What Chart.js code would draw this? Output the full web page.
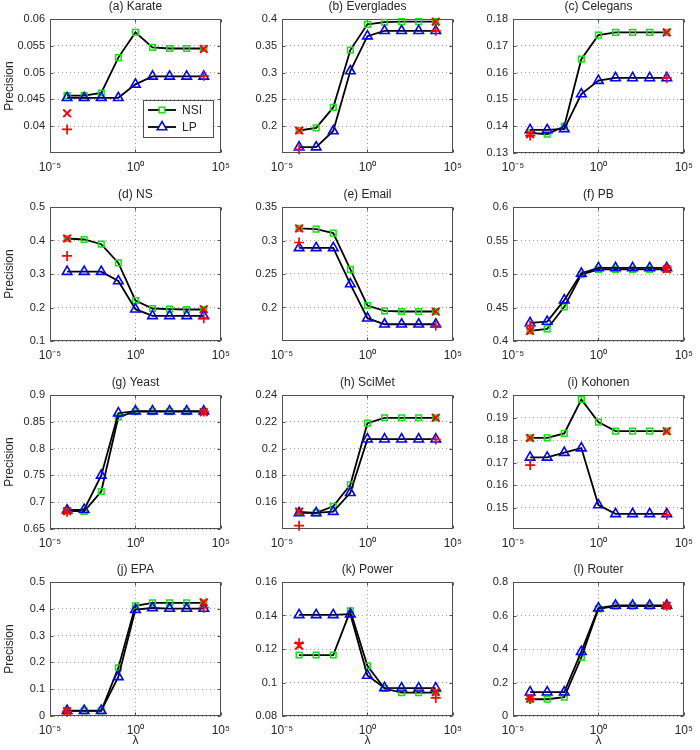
<!DOCTYPE html>
<html><head><meta charset="utf-8">
<script src="https://cdn.jsdelivr.net/npm/chart.js@4.4.0/dist/chart.umd.min.js"></script>
<style>
html,body{margin:0;padding:0;background:#fff;overflow:hidden;width:700px;height:750px;}
#wrap{position:relative;width:700px;height:750px;background:#fff;}
canvas{position:absolute;}
</style></head><body><div id="wrap"></div>
<script>
// ---------- data ----------
const lambdas = [1e-4, 1e-3, 1e-2, 1e-1, 1, 10, 100, 1000, 1e4];
const redLambdas = [1e-4, 1e4];
const xTickValues = [1e-5, 1, 1e5];
const xTickLabels = ['10\u207B\u2075', '10\u2070', '10\u2075'];
const seriesNames = ['NSI', 'LP'];

const karateNSI = [0.0457, 0.0457, 0.0462, 0.0528, 0.0575, 0.0547, 0.0545, 0.0545, 0.0545];
const karateLP = [0.0453, 0.0453, 0.0453, 0.0453, 0.0478, 0.0493, 0.0493, 0.0493, 0.0493];
const karateCross = [0.0424, 0.0544];
const karatePlus = [0.0394, 0.0494];
const karateTicks = [0.04, 0.045, 0.05, 0.055, 0.06];
const karateRange = [0.035, 0.06];

const evergladesNSI = [0.192, 0.197, 0.235, 0.342, 0.390, 0.394, 0.395, 0.395, 0.395];
const evergladesLP = [0.161, 0.161, 0.191, 0.303, 0.368, 0.378, 0.378, 0.378, 0.378];
const evergladesCross = [0.192, 0.395];
const evergladesPlus = [0.157, 0.378];
const evergladesTicks = [0.2, 0.25, 0.3, 0.35, 0.4];
const evergladesRange = [0.15, 0.4];

const celegansNSI = [0.1375, 0.137, 0.140, 0.165, 0.174, 0.175, 0.175, 0.175, 0.175];
const celegansLP = [0.1386, 0.1386, 0.139, 0.152, 0.157, 0.158, 0.158, 0.158, 0.158];
const celegansCross = [0.137, 0.175];
const celegansPlus = [0.1365, 0.158];
const celegansTicks = [0.13, 0.14, 0.15, 0.16, 0.17, 0.18];
const celegansRange = [0.13, 0.18];

const nsNSI = [0.406, 0.403, 0.389, 0.333, 0.221, 0.197, 0.195, 0.194, 0.194];
const nsLP = [0.307, 0.307, 0.307, 0.279, 0.195, 0.175, 0.175, 0.175, 0.175];
const nsCross = [0.406, 0.195];
const nsPlus = [0.354, 0.168];
const nsTicks = [0.1, 0.2, 0.3, 0.4, 0.5];
const nsRange = [0.1, 0.5];

const emailNSI = [0.318, 0.317, 0.311, 0.257, 0.203, 0.195, 0.194, 0.194, 0.194];
const emailLP = [0.289, 0.289, 0.289, 0.235, 0.184, 0.175, 0.175, 0.175, 0.175];
const emailCross = [0.318, 0.194];
const emailPlus = [0.297, 0.173];
const emailTicks = [0.2, 0.25, 0.3, 0.35];
const emailRange = [0.15, 0.35];

const pbNSI = [0.415, 0.418, 0.451, 0.499, 0.507, 0.507, 0.507, 0.507, 0.507];
const pbLP = [0.427, 0.429, 0.461, 0.501, 0.509, 0.509, 0.509, 0.509, 0.509];
const pbCross = [0.415, 0.507];
const pbPlus = [0.423, 0.509];
const pbTicks = [0.4, 0.45, 0.5, 0.55, 0.6];
const pbRange = [0.4, 0.6];

const yeastNSI = [0.684, 0.683, 0.720, 0.859, 0.869, 0.869, 0.869, 0.869, 0.869];
const yeastLP = [0.685, 0.686, 0.750, 0.866, 0.870, 0.870, 0.870, 0.870, 0.870];
const yeastCross = [0.683, 0.868];
const yeastPlus = [0.682, 0.869];
const yeastTicks = [0.65, 0.7, 0.75, 0.8, 0.85, 0.9];
const yeastRange = [0.65, 0.9];

const scimetNSI = [0.1527, 0.152, 0.157, 0.173, 0.219, 0.223, 0.223, 0.223, 0.223];
const scimetLP = [0.152, 0.152, 0.153, 0.167, 0.207, 0.207, 0.207, 0.207, 0.207];
const scimetCross = [0.153, 0.223];
const scimetPlus = [0.1425, 0.2068];
const scimetTicks = [0.16, 0.18, 0.2, 0.22, 0.24];
const scimetRange = [0.14, 0.24];

const kohonenNSI = [0.181, 0.181, 0.183, 0.198, 0.188, 0.184, 0.184, 0.184, 0.184];
const kohonenLP = [0.1724, 0.1724, 0.1745, 0.1765, 0.1513, 0.1474, 0.1474, 0.1474, 0.1474];
const kohonenCross = [0.181, 0.184];
const kohonenPlus = [0.169, 0.147];
const kohonenTicks = [0.15, 0.16, 0.17, 0.18, 0.19, 0.2];
const kohonenRange = [0.1407, 0.2];

const epaNSI = [0.019, 0.019, 0.019, 0.180, 0.411, 0.422, 0.422, 0.422, 0.422];
const epaLP = [0.020, 0.020, 0.020, 0.146, 0.397, 0.403, 0.401, 0.401, 0.401];
const epaCross = [0.018, 0.424];
const epaPlus = [0.016, 0.404];
const epaTicks = [0, 0.1, 0.2, 0.3, 0.4, 0.5];
const epaRange = [0, 0.5];

const powerNSI = [0.1164, 0.1164, 0.1164, 0.1428, 0.110, 0.0964, 0.094, 0.094, 0.094];
const powerLP = [0.1404, 0.1404, 0.1404, 0.1408, 0.1042, 0.0968, 0.0966, 0.0966, 0.0966];
const powerCross = [0.122, 0.0944];
const powerPlus = [0.1235, 0.0908];
const powerTicks = [0.08, 0.1, 0.12, 0.14, 0.16];
const powerRange = [0.08, 0.16];

const routerNSI = [0.100, 0.100, 0.112, 0.350, 0.640, 0.656, 0.656, 0.656, 0.656];
const routerLP = [0.142, 0.142, 0.142, 0.384, 0.644, 0.660, 0.660, 0.660, 0.660];
const routerCross = [0.104, 0.658];
const routerPlus = [0.102, 0.658];
const routerTicks = [0, 0.2, 0.4, 0.6, 0.8];
const routerRange = [0, 0.8];

const panels = [
  {title: '(a) Karate', nsi: karateNSI, lp: karateLP, cross: karateCross, plus: karatePlus, ticks: karateTicks, range: karateRange},
  {title: '(b) Everglades', nsi: evergladesNSI, lp: evergladesLP, cross: evergladesCross, plus: evergladesPlus, ticks: evergladesTicks, range: evergladesRange},
  {title: '(c) Celegans', nsi: celegansNSI, lp: celegansLP, cross: celegansCross, plus: celegansPlus, ticks: celegansTicks, range: celegansRange},
  {title: '(d) NS', nsi: nsNSI, lp: nsLP, cross: nsCross, plus: nsPlus, ticks: nsTicks, range: nsRange},
  {title: '(e) Email', nsi: emailNSI, lp: emailLP, cross: emailCross, plus: emailPlus, ticks: emailTicks, range: emailRange},
  {title: '(f) PB', nsi: pbNSI, lp: pbLP, cross: pbCross, plus: pbPlus, ticks: pbTicks, range: pbRange},
  {title: '(g) Yeast', nsi: yeastNSI, lp: yeastLP, cross: yeastCross, plus: yeastPlus, ticks: yeastTicks, range: yeastRange},
  {title: '(h) SciMet', nsi: scimetNSI, lp: scimetLP, cross: scimetCross, plus: scimetPlus, ticks: scimetTicks, range: scimetRange},
  {title: '(i) Kohonen', nsi: kohonenNSI, lp: kohonenLP, cross: kohonenCross, plus: kohonenPlus, ticks: kohonenTicks, range: kohonenRange},
  {title: '(j) EPA', nsi: epaNSI, lp: epaLP, cross: epaCross, plus: epaPlus, ticks: epaTicks, range: epaRange},
  {title: '(k) Power', nsi: powerNSI, lp: powerLP, cross: powerCross, plus: powerPlus, ticks: powerTicks, range: powerRange},
  {title: '(l) Router', nsi: routerNSI, lp: routerLP, cross: routerCross, plus: routerPlus, ticks: routerTicks, range: routerRange}
];

// ---------- style / layout ----------
const GREEN = '#11e011', BLUE = '#0000ff', RED = '#ff0000';
const TXT = '#262626', BOX = '#505050', GRID = '#a0a0a0';
const FONT = '"Liberation Sans", Arial, Helvetica, sans-serif';
const colLeft = [50, 282, 513], rowTop = [19, 207, 395, 582];
const plotW = 177, plotH = 134, axisW = 50, titleH = 19, xAxisH = 34, padR = 10;

function fmt(v) { return String(+v.toFixed(4)); }

function framePlugin(title) {
  return {
    id: 'frame',
    beforeDatasetsDraw(chart) {
      const {ctx, chartArea: a} = chart;
      ctx.save();
      ctx.strokeStyle = BOX; ctx.lineWidth = 1;
      const L = Math.round(a.left) + 0.5, T = Math.round(a.top) + 0.5;
      const R = Math.round(a.right) - 0.5, B = Math.round(a.bottom) - 0.5;
      ctx.strokeRect(L, T, R - L, B - T);
      ctx.beginPath();
      chart.scales.x.ticks.forEach(t => {
        const px = Math.round(chart.scales.x.getPixelForValue(t.value)) + 0.5;
        ctx.moveTo(px, B); ctx.lineTo(px, B - 3);
        ctx.moveTo(px, T); ctx.lineTo(px, T + 3);
      });
      chart.scales.y.ticks.forEach(t => {
        const py = Math.round(chart.scales.y.getPixelForValue(t.value)) + 0.5;
        ctx.moveTo(L, py); ctx.lineTo(L + 3, py);
        ctx.moveTo(R, py); ctx.lineTo(R - 3, py);
      });
      ctx.stroke();
      ctx.restore();
    },
    afterDraw(chart) {
      const {ctx, chartArea: a} = chart;
      ctx.save();
      ctx.fillStyle = TXT;
      ctx.font = '12px ' + FONT;
      ctx.textAlign = 'center'; ctx.textBaseline = 'middle';
      ctx.fillText(title, (a.left + a.right) / 2, a.top - 12);
      ctx.restore();
    }
  };
}

const legendPlugin = {
  id: 'boxLegend',
  afterDatasetsDraw(chart) {
    const {ctx, chartArea: a} = chart;
    const w = 70, h = 37;
    const x0 = Math.round(a.right) - 8 - w, y0 = Math.round(a.bottom) - 16 - h;
    ctx.save();
    ctx.fillStyle = '#fff';
    ctx.fillRect(x0, y0, w, h);
    ctx.strokeStyle = BOX; ctx.lineWidth = 1;
    ctx.strokeRect(x0 + 0.5, y0 + 0.5, w, h);
    const rows = [y0 + 10, y0 + 27];
    rows.forEach((yy, k) => {
      ctx.strokeStyle = '#000'; ctx.lineWidth = 1.8;
      ctx.beginPath(); ctx.moveTo(x0 + 5, yy); ctx.lineTo(x0 + 33, yy); ctx.stroke();
      const cx = x0 + 19;
      ctx.lineWidth = 1.5;
      if (k === 0) {
        ctx.strokeStyle = GREEN; ctx.fillStyle = '#fff';
        ctx.fillRect(cx - 2.8, yy - 2.8, 5.6, 5.6);
        ctx.strokeRect(cx - 2.8, yy - 2.8, 5.6, 5.6);
      } else {
        ctx.strokeStyle = BLUE; ctx.fillStyle = '#fff';
        ctx.beginPath();
        ctx.moveTo(cx, yy - 5.5); ctx.lineTo(cx + 4.8, yy + 2.75); ctx.lineTo(cx - 4.8, yy + 2.75); ctx.closePath();
        ctx.fill(); ctx.stroke();
      }
      ctx.fillStyle = TXT; ctx.font = '12px ' + FONT;
      ctx.textAlign = 'left'; ctx.textBaseline = 'middle';
      ctx.fillText(seriesNames[k], x0 + 39, yy + 0.5);
    });
    ctx.restore();
  }
};

const wrap = document.getElementById('wrap');
panels.forEach((p, i) => {
  const r = Math.floor(i / 3), c = i % 3;
  const W = axisW + plotW + padR, H = titleH + plotH + xAxisH;
  const cv = document.createElement('canvas');
  cv.width = W; cv.height = H;
  cv.style.left = (colLeft[c] - axisW) + 'px';
  cv.style.top = (rowTop[r] - titleH) + 'px';
  cv.style.width = W + 'px'; cv.style.height = H + 'px';
  wrap.appendChild(cv);

  const pts = (xs, ys) => xs.map((x, k) => ({x: x, y: ys[k]}));
  new Chart(cv, {
    type: 'line',
    data: {
      datasets: [
        {label: 'NSI', data: pts(lambdas, p.nsi), borderColor: '#000', borderWidth: 1.8, tension: 0,
         pointStyle: 'rect', pointRadius: 4, pointBorderColor: GREEN, pointBackgroundColor: 'rgba(0,0,0,0)',
         pointBorderWidth: 1.5, order: 3, clip: false},
        {label: 'LP', data: pts(lambdas, p.lp), borderColor: '#000', borderWidth: 1.8, tension: 0,
         pointStyle: 'triangle', pointRadius: 5.5, pointBorderColor: BLUE, pointBackgroundColor: 'rgba(0,0,0,0)',
         pointBorderWidth: 1.6, order: 2, clip: false},
        {label: 'x', data: pts(redLambdas, p.cross), showLine: false,
         pointStyle: 'crossRot', pointRadius: 5.4, pointBorderColor: RED, pointBackgroundColor: RED,
         pointBorderWidth: 2, order: 1, clip: false},
        {label: '+', data: pts(redLambdas, p.plus), showLine: false,
         pointStyle: 'cross', pointRadius: 5, pointBorderColor: RED, pointBackgroundColor: RED,
         pointBorderWidth: 1.7, order: 0, clip: false}
      ]
    },
    options: {
      responsive: false, animation: false, devicePixelRatio: 1, events: [],
      layout: {padding: {top: titleH, right: padR, left: 0, bottom: 0}},
      plugins: {legend: {display: false}, tooltip: {enabled: false}, title: {display: false}},
      scales: {
        x: {
          type: 'logarithmic', min: 1e-5, max: 1e5,
          afterBuildTicks: s => { s.ticks = xTickValues.map(v => ({value: v})); },
          afterFit: s => { s.height = xAxisH; },
          ticks: {autoSkip: false, maxRotation: 0, minRotation: 0, padding: 7, color: TXT,
                  font: {family: FONT, size: 12}, callback: (v, idx) => xTickLabels[idx]},
          grid: {drawTicks: false, color: GRID, lineWidth: 1},
          border: {display: false, dash: [1, 3]},
          title: {display: r === 3, text: '\u03BB', color: TXT, font: {family: FONT, size: 12},
                  padding: {top: 0, bottom: 2}}
        },
        y: {
          type: 'linear', min: p.range[0], max: p.range[1],
          afterBuildTicks: s => { s.ticks = p.ticks.map(v => ({value: v})); },
          afterFit: s => { s.width = axisW; },
          ticks: {padding: 5, color: TXT, font: {family: FONT, size: 11}, callback: v => fmt(v)},
          grid: {drawTicks: false, color: GRID, lineWidth: 1},
          border: {display: false, dash: [1, 3]},
          title: {display: c === 0, text: 'Precision', color: TXT, font: {family: FONT, size: 12},
                  padding: {top: 2, bottom: 0}}
        }
      }
    },
    plugins: i === 0 ? [framePlugin(p.title), legendPlugin] : [framePlugin(p.title)]
  });
});
</script>
</body></html>
